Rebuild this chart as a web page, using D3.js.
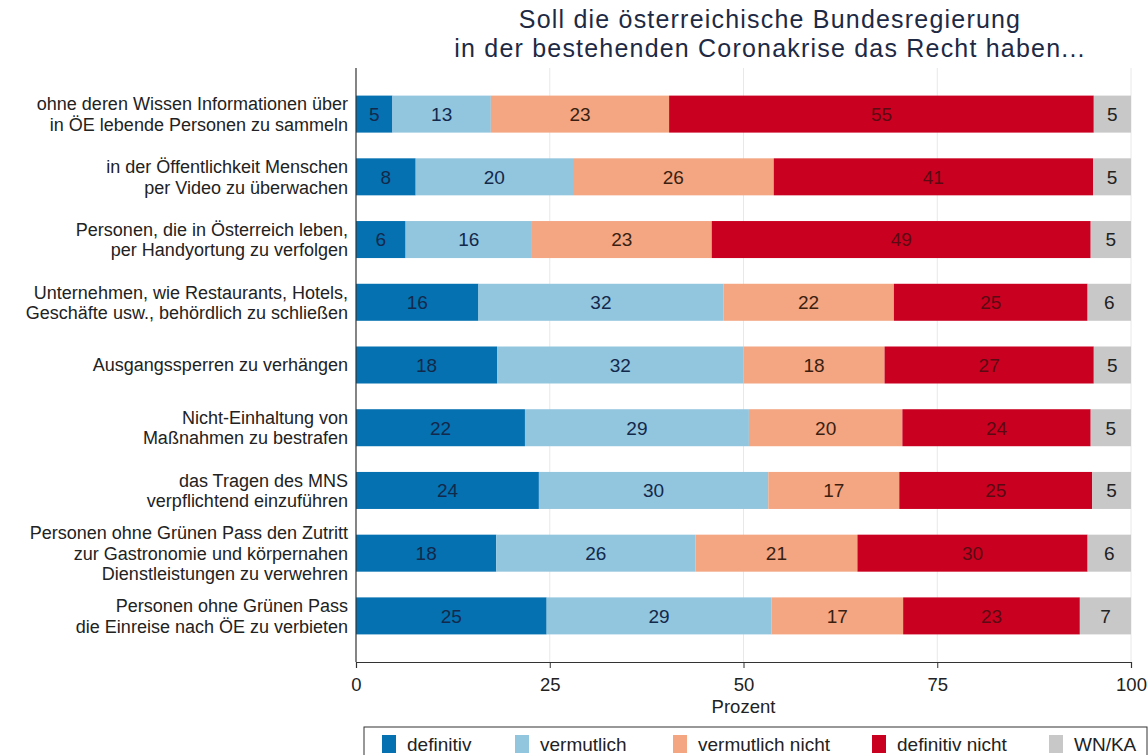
<!DOCTYPE html>
<html><head><meta charset="utf-8">
<script src="https://cdn.jsdelivr.net/npm/d3@7"></script>
<style>
html,body{margin:0;padding:0;background:#fff;}
text{font-family:"Liberation Sans",Arial,sans-serif;}
</style></head>
<body>
<svg id="chart" width="1148" height="755"></svg>
<script>
const categories = [
  ["ohne deren Wissen Informationen über","in ÖE lebende Personen zu sammeln"],
  ["in der Öffentlichkeit Menschen","per Video zu überwachen"],
  ["Personen, die in Österreich leben,","per Handyortung zu verfolgen"],
  ["Unternehmen, wie Restaurants, Hotels,","Geschäfte usw., behördlich zu schließen"],
  ["Ausgangssperren zu verhängen"],
  ["Nicht-Einhaltung von","Maßnahmen zu bestrafen"],
  ["das Tragen des MNS","verpflichtend einzuführen"],
  ["Personen ohne Grünen Pass den Zutritt","zur Gastronomie  und körpernahen","Dienstleistungen zu verwehren"],
  ["Personen ohne Grünen Pass","die Einreise nach ÖE zu verbieten"]
];
const seriesNames = ["definitiv","vermutlich","vermutlich nicht","definitiv nicht","WN/KA"];
const definitiv       = [4.7, 7.7, 6.4, 15.8, 18.2, 21.8, 23.6, 18.1, 24.6];
const vermutlich      = [12.7, 20.3, 16.3, 31.6, 31.8, 28.9, 29.6, 25.7, 29.0];
const vermutlichNicht = [23.0, 25.9, 23.2, 22.0, 18.2, 19.8, 16.9, 20.9, 17.0];
const definitivNicht  = [54.8, 41.2, 48.9, 25.0, 27.0, 24.3, 24.9, 29.7, 22.8];
const wnka            = [4.8, 4.9, 5.2, 5.6, 4.8, 5.2, 5.0, 5.6, 6.6];
const xTicks = [0, 25, 50, 75, 100];
const titleLines = ["Soll die österreichische Bundesregierung","in der bestehenden Coronakrise das Recht haben..."];
const xLabel = "Prozent";

const colors = ["#0571b0","#92c5de","#f4a582","#ca0020","#c8c8c8"];
const textColors = ["#13294b","#13294b","#3a1f10","#5a0a12","#222222"];

const seriesData = [definitiv, vermutlich, vermutlichNicht, definitivNicht, wnka];
const rows = categories.map((c,i)=>{
  const o = {idx:i};
  seriesNames.forEach((s,j)=>o[s]=seriesData[j][i]);
  return o;
});
const stack = d3.stack().keys(seriesNames)(rows);

const svg = d3.select("#chart");
const pL = 356, pR = 1131, pT = 68, pB = 662;
const x = d3.scaleLinear().domain([0,100]).range([pL,pR]);
const y = d3.scaleBand().domain(d3.range(categories.length)).range([pT,pB]).paddingInner(0.41).paddingOuter(0.44);

// grid
svg.append("g").selectAll("line").data(xTicks.filter(t=>t>0)).join("line")
  .attr("x1",d=>x(d)).attr("x2",d=>x(d)).attr("y1",pT).attr("y2",pB)
  .attr("stroke","#e8e8e8").attr("stroke-width",1);

// bars
const g = svg.append("g");
stack.forEach((layer,j)=>{
  const lg = g.append("g");
  lg.selectAll("rect").data(layer).join("rect")
    .attr("x",d=>x(d[0])).attr("width",d=>x(d[1])-x(d[0]))
    .attr("y",d=>y(d.data.idx)).attr("height",y.bandwidth())
    .attr("fill",colors[j]);
  lg.selectAll("text").data(layer).join("text")
    .attr("x",d=>(x(d[0])+x(d[1]))/2)
    .attr("y",d=>y(d.data.idx)+y.bandwidth()/2)
    .attr("dy","0.36em").attr("text-anchor","middle")
    .attr("font-size",19).attr("fill",textColors[j])
    .text(d=>d3.format(".0f")(d[1]-d[0]));
});

// left axis line
svg.append("line").attr("x1",pL).attr("x2",pL).attr("y1",pT).attr("y2",pB)
  .attr("stroke","#333").attr("stroke-width",1.2);

// x axis
const xAxis = svg.append("g").attr("transform",`translate(0,${pB})`)
  .call(d3.axisBottom(x).tickValues(xTicks).tickSize(6).tickPadding(10).tickFormat(d3.format("d")));
xAxis.select(".domain").attr("stroke","#333").attr("stroke-width",1.2);
xAxis.selectAll(".tick line").attr("stroke","#333");
xAxis.selectAll(".tick text").attr("font-size",18.5).attr("fill","#222").attr("font-family","'Liberation Sans',Arial,sans-serif");
svg.append("text").attr("x",x(50)).attr("y",713).attr("text-anchor","middle")
  .attr("font-size",18.5).attr("fill","#222").text(xLabel);

// category labels
const cl = svg.append("g");
categories.forEach((lines,i)=>{
  const cy = y(i)+y.bandwidth()/2;
  const lh = 20.5;
  const t = cl.append("text").attr("text-anchor","end").attr("font-size",18).attr("fill","#222");
  lines.forEach((ln,k)=>{
    t.append("tspan").attr("x",348)
      .attr("y",cy + (k-(lines.length-1)/2)*lh)
      .attr("dy","0.36em").text(ln);
  });
});

// title
svg.append("g").selectAll("text").data(titleLines).join("text")
  .attr("x",770).attr("y",(d,i)=>28+i*29).attr("text-anchor","middle")
  .attr("font-size",25).attr("letter-spacing",1.2).attr("fill","#1e2a44").text(d=>d);

// legend
const leg = svg.append("g");
leg.append("rect").attr("x",364).attr("y",727).attr("width",783).attr("height",40)
  .attr("fill","#fff").attr("stroke","#333").attr("stroke-width",1);
const legTextX = [407, 540, 698, 897, 1074];
seriesNames.forEach((s,j)=>{
  leg.append("rect").attr("x",legTextX[j]-25).attr("y",735).attr("width",14).attr("height",18).attr("fill",colors[j]);
  leg.append("text").attr("x",legTextX[j]).attr("y",744).attr("dy","0.36em")
    .attr("font-size",19).attr("fill","#222").text(s);
});
</script>
</body></html>
